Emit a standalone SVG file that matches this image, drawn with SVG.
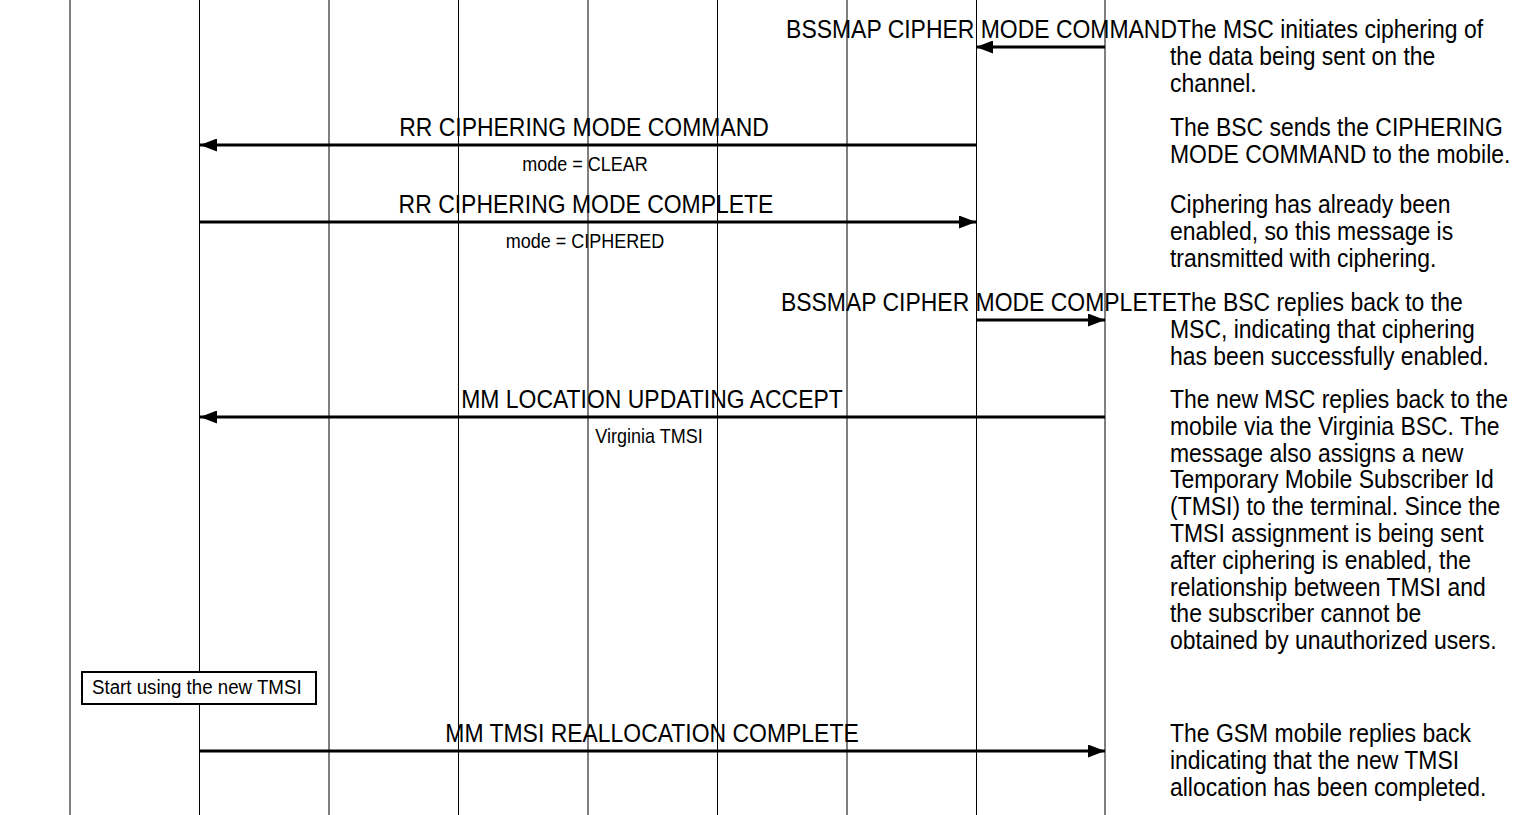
<svg xmlns="http://www.w3.org/2000/svg" width="1519" height="815" viewBox="0 0 1519 815">
  <defs>
    <marker id="head" markerWidth="17" markerHeight="13" refX="17" refY="6.5" orient="auto" markerUnits="userSpaceOnUse">
      <path d="M0,0 L17,6.5 L0,13 Z" fill="#000"/>
    </marker>
    <style>
      .life { stroke: #000; stroke-width: 1; }
      .msg { stroke: #000; stroke-width: 3; fill: none; marker-end: url(#head); }
      .lbl { font-family: "Liberation Sans", Arial, sans-serif; font-size: 25.5px; fill: #000; }
      .sub { font-family: "Liberation Sans", Arial, sans-serif; font-size: 20px; fill: #000; }
      .act { font-family: "Liberation Sans", Arial, sans-serif; font-size: 20.8px; fill: #000; }
      .note { font-family: "Liberation Sans", Arial, sans-serif; font-size: 25.5px; fill: #000; }
      .box { fill: #fff; stroke: #000; stroke-width: 2; }
    </style>
  </defs>
  <rect width="1519" height="815" fill="#fff"/>

  <!-- lifelines -->
  <g id="lifelines">
    <line class="life" x1="70" y1="0" x2="70" y2="815"/>
    <line class="life" x1="199.5" y1="0" x2="199.5" y2="815"/>
    <line class="life" x1="329" y1="0" x2="329" y2="815"/>
    <line class="life" x1="458.5" y1="0" x2="458.5" y2="815"/>
    <line class="life" x1="588" y1="0" x2="588" y2="815"/>
    <line class="life" x1="717.5" y1="0" x2="717.5" y2="815"/>
    <line class="life" x1="847" y1="0" x2="847" y2="815"/>
    <line class="life" x1="976.5" y1="0" x2="976.5" y2="815"/>
    <line class="life" x1="1105" y1="0" x2="1105" y2="815"/>
  </g>

  <!-- messages -->
  <g id="connectors">
    <line class="msg" x1="1105" y1="47" x2="976" y2="47"/>
    <line class="msg" x1="976" y1="145" x2="200" y2="145"/>
    <line class="msg" x1="200" y1="222" x2="976" y2="222"/>
    <line class="msg" x1="976" y1="320" x2="1105" y2="320"/>
    <line class="msg" x1="1105" y1="417" x2="200" y2="417"/>
    <line class="msg" x1="200" y1="751" x2="1105" y2="751"/>
  </g>

  <!-- message labels -->
  <g id="msg-cipher-mode-command">
    <text class="lbl" text-anchor="end" transform="translate(1177 38) scale(0.9 1)">BSSMAP CIPHER MODE COMMAND</text>
  </g>
  <g id="msg-rr-ciphering-command">
    <text class="lbl" text-anchor="middle" transform="translate(584 136) scale(0.9 1)">RR CIPHERING MODE COMMAND</text>
    <text class="sub" text-anchor="middle" transform="translate(585 171) scale(0.9 1)">mode = CLEAR</text>
  </g>
  <g id="msg-rr-ciphering-complete">
    <text class="lbl" text-anchor="middle" transform="translate(586 213) scale(0.9 1)">RR CIPHERING MODE COMPLETE</text>
    <text class="sub" text-anchor="middle" transform="translate(585 248) scale(0.9 1)">mode = CIPHERED</text>
  </g>
  <g id="msg-cipher-mode-complete">
    <text class="lbl" text-anchor="end" transform="translate(1177 311) scale(0.9 1)">BSSMAP CIPHER MODE COMPLETE</text>
  </g>
  <g id="msg-location-updating-accept">
    <text class="lbl" text-anchor="middle" transform="translate(652 408) scale(0.9 1)">MM LOCATION UPDATING ACCEPT</text>
    <text class="sub" text-anchor="middle" transform="translate(649 443) scale(0.9 1)">Virginia TMSI</text>
  </g>
  <g id="msg-tmsi-realloc-complete">
    <text class="lbl" text-anchor="middle" transform="translate(652 742) scale(0.9 1)">MM TMSI REALLOCATION COMPLETE</text>
  </g>

  <!-- action box on the mobile lifeline -->
  <g id="action-new-tmsi">
    <rect class="box" x="82" y="672" width="234" height="32"/>
    <text class="act" transform="translate(92 694) scale(0.9 1)">Start using the new TMSI</text>
  </g>

  <!-- explanatory notes -->
  <g id="note-1">
    <text class="note" transform="translate(1170 38) scale(0.9 1)"><tspan x="7.8" y="0">The MSC initiates ciphering of</tspan><tspan x="0" y="26.8">the data being sent on the</tspan><tspan x="0" y="53.6">channel.</tspan></text>
  </g>
  <g id="note-2">
    <text class="note" transform="translate(1170 136) scale(0.9 1)"><tspan x="0" y="0">The BSC sends the CIPHERING</tspan><tspan x="0" y="26.8">MODE COMMAND to the mobile.</tspan></text>
  </g>
  <g id="note-3">
    <text class="note" transform="translate(1170 213) scale(0.9 1)"><tspan x="0" y="0">Ciphering has already been</tspan><tspan x="0" y="26.8">enabled, so this message is</tspan><tspan x="0" y="53.6">transmitted with ciphering.</tspan></text>
  </g>
  <g id="note-4">
    <text class="note" transform="translate(1170 311) scale(0.9 1)"><tspan x="7.8" y="0">The BSC replies back to the</tspan><tspan x="0" y="26.8">MSC, indicating that ciphering</tspan><tspan x="0" y="53.6">has been successfully enabled.</tspan></text>
  </g>
  <g id="note-5">
    <text class="note" transform="translate(1170 408) scale(0.9 1)"><tspan x="0" y="0">The new MSC replies back to the</tspan><tspan x="0" y="26.8">mobile via the Virginia BSC. The</tspan><tspan x="0" y="53.6">message also assigns a new</tspan><tspan x="0" y="80.4">Temporary Mobile Subscriber Id</tspan><tspan x="0" y="107.2">(TMSI) to the terminal. Since the</tspan><tspan x="0" y="134">TMSI assignment is being sent</tspan><tspan x="0" y="160.8">after ciphering is enabled, the</tspan><tspan x="0" y="187.6">relationship between TMSI and</tspan><tspan x="0" y="214.4">the subscriber cannot be</tspan><tspan x="0" y="241.2">obtained by unauthorized users.</tspan></text>
  </g>
  <g id="note-6">
    <text class="note" transform="translate(1170 742) scale(0.9 1)"><tspan x="0" y="0">The GSM mobile replies back</tspan><tspan x="0" y="26.8">indicating that the new TMSI</tspan><tspan x="0" y="53.6">allocation has been completed.</tspan></text>
  </g>
</svg>
